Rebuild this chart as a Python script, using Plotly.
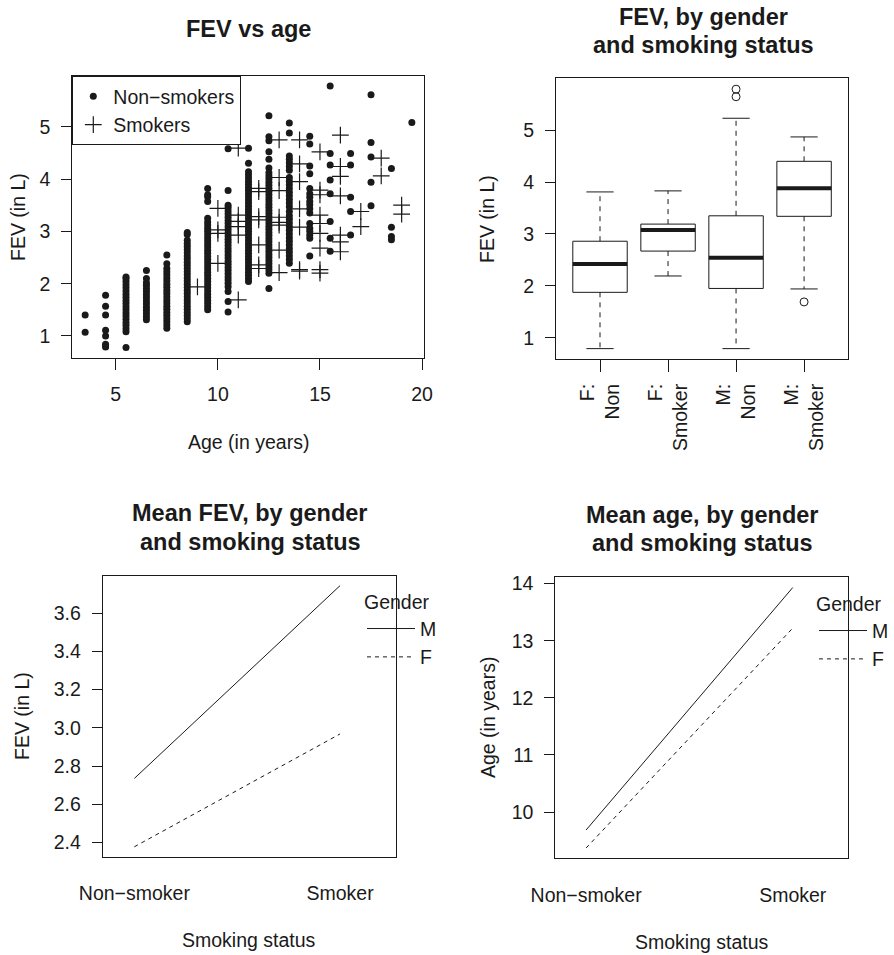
import plotly.graph_objects as go

W, H = 894, 955
FONT = "Liberation Sans, Arial, Helvetica, sans-serif"
INK = "#1a1a1a"
FS = 19.5
TFS = 23.5

# ---------------- data ----------------
# Panel 1: FEV vs age (values read per age column)
nonsmoker_ages = [3.5, 4.5, 5.5, 6.5, 7.5, 8.5, 9.5, 10.5, 11.5, 12.5,
                  13.5, 14.5, 15.5, 16.5, 17.5, 18.5, 19.5]
nonsmoker_fev = [
    [1.07, 1.40],
    [0.79, 0.81, 0.84, 1.00, 1.11, 1.40, 1.57, 1.78],
    [0.78, 1.08, 1.14, 1.20, 1.26, 1.32, 1.38, 1.44, 1.50, 1.56, 1.62, 1.68,
     1.74, 1.80, 1.86, 1.92, 1.98, 2.04, 2.10, 2.13],
    [1.31, 1.37, 1.43, 1.49, 1.55, 1.61, 1.67, 1.73, 1.79, 1.85, 1.91, 1.97,
     2.02, 2.10, 2.25],
    [1.15, 1.21, 1.27, 1.33, 1.39, 1.45, 1.51, 1.57, 1.63, 1.69, 1.75, 1.81,
     1.87, 1.93, 1.99, 2.05, 2.11, 2.17, 2.23, 2.29, 2.38, 2.55],
    [1.27, 1.33, 1.39, 1.45, 1.51, 1.57, 1.63, 1.69, 1.75, 1.81, 1.87, 1.93,
     1.99, 2.05, 2.11, 2.17, 2.23, 2.29, 2.35, 2.41, 2.47, 2.53, 2.59, 2.65,
     2.71, 2.77, 2.83, 2.94, 2.98],
    [1.50, 1.56, 1.62, 1.68, 1.74, 1.80, 1.86, 1.92, 1.98, 2.04, 2.10, 2.16,
     2.22, 2.28, 2.34, 2.40, 2.46, 2.52, 2.58, 2.64, 2.70, 2.76, 2.82, 2.88,
     2.94, 3.00, 3.06, 3.12, 3.18, 3.25, 3.57, 3.66, 3.70, 3.82],
    [1.46, 1.66, 1.85, 1.94, 2.01, 2.07, 2.13, 2.19, 2.25, 2.31, 2.37, 2.43,
     2.49, 2.55, 2.61, 2.67, 2.73, 2.79, 2.85, 2.91, 2.97, 3.03, 3.09, 3.15,
     3.21, 3.27, 3.33, 3.39, 3.45, 3.50, 3.78, 4.58],
    [2.04, 2.10, 2.16, 2.22, 2.28, 2.34, 2.40, 2.46, 2.52, 2.58, 2.64, 2.70,
     2.76, 2.82, 2.88, 2.94, 3.00, 3.06, 3.12, 3.18, 3.24, 3.30, 3.36, 3.42,
     3.48, 3.54, 3.60, 3.66, 3.72, 3.78, 3.84, 3.90, 3.96, 4.02, 4.08, 4.14,
     4.30, 4.59],
    [1.91, 2.20, 2.26, 2.32, 2.38, 2.44, 2.50, 2.56, 2.62, 2.68, 2.74, 2.80,
     2.86, 2.92, 2.98, 3.04, 3.10, 3.16, 3.22, 3.28, 3.34, 3.40, 3.46, 3.52,
     3.58, 3.64, 3.70, 3.76, 3.82, 3.88, 3.94, 4.00, 4.06, 4.12, 4.21, 4.38,
     4.52, 4.73, 4.81, 5.21],
    [2.39, 2.46, 2.53, 2.60, 2.67, 2.74, 2.81, 2.88, 2.95, 3.02, 3.09, 3.16,
     3.23, 3.30, 3.38, 3.47, 3.54, 3.61, 3.68, 3.75, 3.82, 3.89, 3.96, 4.03,
     4.17, 4.24, 4.31, 4.38, 4.44, 4.88, 5.07],
    [2.53, 2.87, 2.93, 3.00, 3.06, 3.15, 3.35, 3.43, 3.51, 3.57, 3.65, 3.72,
     3.82, 4.10, 4.25, 4.67, 4.82],
    [2.62, 2.87, 3.19, 3.72, 3.98, 4.27, 4.49, 5.78],
    [2.93, 3.38, 3.65, 4.27, 4.49],
    [3.49, 3.94, 4.42, 4.70, 5.61],
    [2.84, 2.90, 3.08, 4.20],
    [5.08],
]
smoker_ages = [9, 10, 11, 12, 13, 14, 15, 16, 17, 18, 19]
smoker_fev = [
    [1.94],
    [2.39, 2.96, 3.03, 3.44],
    [1.69, 2.93, 3.09, 3.19, 3.31, 4.59],
    [2.29, 2.36, 2.74, 3.22, 3.28, 3.76, 3.82],
    [2.21, 2.64, 3.12, 3.17, 3.27, 3.78, 4.03, 4.75],
    [2.24, 2.27, 3.08, 3.43, 3.95, 4.29, 4.75],
    [2.20, 2.27, 2.68, 2.96, 3.15, 3.31, 3.70, 3.79, 4.52],
    [2.61, 2.80, 2.93, 3.68, 4.05, 4.24, 4.84],
    [3.09, 3.38],
    [4.06, 4.40],
    [3.33, 3.50],
]

# Panel 2: boxplot statistics
box_labels = ["F:<br>Non", "F:<br>Smoker", "M:<br>Non", "M:<br>Smoker"]
box_lower = [0.79, 2.19, 0.79, 1.94]
box_q1 = [1.875, 2.67, 1.95, 3.34]
box_median = [2.42, 3.075, 2.54, 3.88]
box_q3 = [2.86, 3.19, 3.35, 4.40]
box_upper = [3.81, 3.83, 5.23, 4.87]
box_outliers = [[], [], [5.645, 5.79], [1.69]]

# Panels 3 & 4: interaction means
smoke_levels = ["Non\u2212smoker", "Smoker"]
mean_fev_M = [2.735, 3.745]
mean_fev_F = [2.377, 2.968]
mean_age_M = [9.685, 13.93]
mean_age_F = [9.37, 13.22]

# ---------------- layout helpers ----------------
def px(p):
    return p / W

def py(p):
    return 1 - p / H

fig = go.Figure()

# Panel 1 scatter
ns_x, ns_y = [], []
for a, col in zip(nonsmoker_ages, nonsmoker_fev):
    ns_x += [a] * len(col)
    ns_y += col
sm_x, sm_y = [], []
for a, col in zip(smoker_ages, smoker_fev):
    sm_x += [a] * len(col)
    sm_y += col

fig.add_trace(go.Scatter(x=ns_x, y=ns_y, mode="markers", name="Non\u2212smokers",
                         marker=dict(symbol="circle", size=7, color=INK, line=dict(width=0)),
                         xaxis="x", yaxis="y", legend="legend"))
fig.add_trace(go.Scatter(x=sm_x, y=sm_y, mode="markers", name="Smokers",
                         marker=dict(symbol="cross-thin-open", size=12, color=INK,
                                     line=dict(width=1.2, color=INK)),
                         xaxis="x", yaxis="y", legend="legend"))

# Panel 2 boxplot drawn from stats
pos = list(range(1, len(box_labels) + 1))
hw, cw = 0.4, 0.2
rx, ry, mx, my, wx, wy, cx, cy, ox, oy = [], [], [], [], [], [], [], [], [], []
for i, lo, q1, me, q3, up, outs in zip(pos, box_lower, box_q1, box_median,
                                       box_q3, box_upper, box_outliers):
    rx += [i - hw, i + hw, i + hw, i - hw, i - hw, None]
    ry += [q1, q1, q3, q3, q1, None]
    mx += [i - hw, i + hw, None]
    my += [me, me, None]
    wx += [i, i, None, i, i, None]
    wy += [q3, up, None, q1, lo, None]
    cx += [i - cw, i + cw, None, i - cw, i + cw, None]
    cy += [up, up, None, lo, lo, None]
    ox += [i] * len(outs)
    oy += outs

common2 = dict(xaxis="x2", yaxis="y2", showlegend=False, hoverinfo="skip")
fig.add_trace(go.Scatter(x=wx, y=wy, mode="lines",
                         line=dict(color=INK, width=1, dash="5px,5px"), **common2))
fig.add_trace(go.Scatter(x=cx, y=cy, mode="lines", line=dict(color=INK, width=1), **common2))
fig.add_trace(go.Scatter(x=rx, y=ry, mode="lines", line=dict(color=INK, width=1), **common2))
fig.add_trace(go.Scatter(x=mx, y=my, mode="lines", line=dict(color=INK, width=4), **common2))
fig.add_trace(go.Scatter(x=ox, y=oy, mode="markers",
                         marker=dict(symbol="circle-open", size=8, color=INK,
                                     line=dict(width=1, color=INK)),
                         **common2))

# Panels 3 & 4 interaction plots
xs = [1, 2]
for yvals, name, dash, ax, lg in [
    (mean_fev_M, "M", "solid", ("x3", "y3"), "legend2"),
    (mean_fev_F, "F", "4px,4px", ("x3", "y3"), "legend2"),
    (mean_age_M, "M", "solid", ("x4", "y4"), "legend3"),
    (mean_age_F, "F", "4px,4px", ("x4", "y4"), "legend3"),
]:
    fig.add_trace(go.Scatter(x=xs, y=yvals, mode="lines", name=name,
                             line=dict(color=INK, width=1, dash=dash),
                             xaxis=ax[0], yaxis=ax[1], legend=lg))

# ---------------- axes ----------------
def axis(domain, rng, **kw):
    d = dict(domain=domain, range=rng, showline=True, linecolor=INK, linewidth=1,
             mirror=True, showgrid=False, zeroline=False, ticks="outside",
             tickcolor=INK, ticklen=10, tickwidth=1,
             tickfont=dict(size=FS, color=INK, family=FONT), fixedrange=True)
    d.update(kw)
    return d

P1 = (72.3, 424.3, 76, 357.7)
P2 = (556, 848.3, 78.3, 359)
P3 = (102.7, 396, 575.7, 856.7)
P4 = (555.3, 848.3, 577.3, 858.3)

def dx(P):
    return [px(P[0]), px(P[1])]

def dy(P):
    return [py(P[3]), py(P[2])]

fig.update_layout(
    xaxis=axis(dx(P1), [2.87, 20.11], anchor="y", tickvals=[5, 10, 15, 20],
               ticklen=11, ticklabelstandoff=8),
    yaxis=axis(dy(P1), [0.585, 5.97], anchor="x", tickvals=[1, 2, 3, 4, 5],
               ticklabelstandoff=7),
    xaxis2=axis(dx(P2), [0.353, 4.65], anchor="y2", tickvals=pos, ticktext=box_labels,
                tickangle=-90, ticklen=12, ticklabelstandoff=4),
    yaxis2=axis(dy(P2), [0.59, 6.0], anchor="x2", tickvals=[1, 2, 3, 4, 5],
                ticklabelstandoff=7),
    xaxis3=axis(dx(P3), [0.846, 2.272], anchor="y3", tickvals=xs, ticktext=smoke_levels,
                ticks="", ticklabelstandoff=19),
    yaxis3=axis(dy(P3), [2.325, 3.797], anchor="x3",
                tickvals=[2.4, 2.6, 2.8, 3.0, 3.2, 3.4, 3.6], tickformat=".1f",
                ticklabelstandoff=7),
    xaxis4=axis(dx(P4), [0.851, 2.269], anchor="y4", tickvals=xs, ticktext=smoke_levels,
                ticks="", ticklabelstandoff=19),
    yaxis4=axis(dy(P4), [9.19, 14.11], anchor="x4", tickvals=[10, 11, 12, 13, 14],
                ticklabelstandoff=7),
)

# ---------------- legends ----------------
fig.update_layout(
    legend=dict(x=px(72.3), y=py(76), xanchor="left", yanchor="top",
                bordercolor=INK, borderwidth=1, bgcolor="white",
                font=dict(size=FS, color=INK, family=FONT), tracegroupgap=0),
    legend2=dict(x=px(362), y=py(584), xanchor="left", yanchor="top",
                 bgcolor="rgba(0,0,0,0)", borderwidth=0, itemwidth=48,
                 title=dict(text="Gender", font=dict(size=FS, color=INK, family=FONT)),
                 font=dict(size=FS, color=INK, family=FONT)),
    legend3=dict(x=px(814), y=py(586), xanchor="left", yanchor="top",
                 bgcolor="rgba(0,0,0,0)", borderwidth=0, itemwidth=48,
                 title=dict(text="Gender", font=dict(size=FS, color=INK, family=FONT)),
                 font=dict(size=FS, color=INK, family=FONT)),
)

# ---------------- titles & axis labels ----------------
ann = []

def text(t, x, y, size=FS, bold=False, angle=0):
    ann.append(dict(text=f"<b>{t}</b>" if bold else t, x=px(x), y=py(y),
                    xref="paper", yref="paper", xanchor="center", yanchor="middle",
                    showarrow=False, textangle=angle,
                    font=dict(size=size, color=INK, family=FONT)))

text("FEV vs age", 248.3, 29, TFS, True)
text("FEV, by gender", 703, 17, TFS, True)
text("and smoking status", 703, 45, TFS, True)
text("Mean FEV, by gender", 250, 513, TFS, True)
text("and smoking status", 250, 542, TFS, True)
text("Mean age, by gender", 702, 515, TFS, True)
text("and smoking status", 702, 543, TFS, True)

text("Age (in years)", 248.3, 442)
text("FEV (in L)", 18, 217, angle=-90)
text("FEV (in L)", 487, 219, angle=-90)
text("Smoking status", 249, 940)
text("FEV (in L)", 22, 716, angle=-90)
text("Smoking status", 702, 942)
text("Age (in years)", 488, 718, angle=-90)

fig.update_layout(
    width=W, height=H, margin=dict(l=0, r=0, t=0, b=0, autoexpand=False),
    paper_bgcolor="white", plot_bgcolor="white",
    font=dict(family=FONT, color=INK, size=FS),
    annotations=ann, hovermode=False,
)

fig.write_html("out.html", config={"displayModeBar": False, "staticPlot": True},
               post_script="document.body.style.margin='0px';document.body.style.overflow='hidden';")
